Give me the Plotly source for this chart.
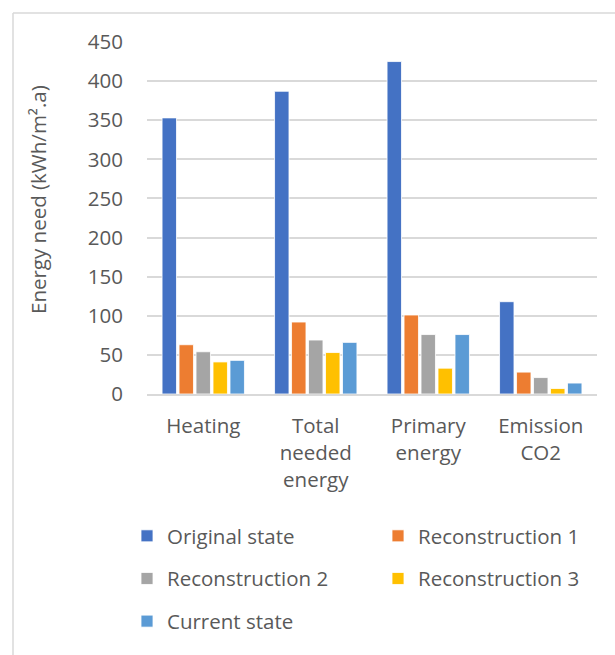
import plotly.graph_objects as go

categories = ["Heating", "Total<br>needed<br>energy", "Primary<br>energy", "Emission<br>CO2"]
series_names = ["Original state", "Reconstruction 1", "Reconstruction 2", "Reconstruction 3", "Current state"]
original_state = [353, 387, 425, 118]
reconstruction_1 = [63, 92, 101, 28]
reconstruction_2 = [54, 69, 76, 21]
reconstruction_3 = [41, 53, 33, 7]
current_state = [43, 66, 76, 14]
y_ticks = [0, 50, 100, 150, 200, 250, 300, 350, 400, 450]

values = [original_state, reconstruction_1, reconstruction_2, reconstruction_3, current_state]
colors = ["#4472C4", "#ED7D31", "#A5A5A5", "#FFC000", "#5B9BD5"]
legend_ids = ["legend", "legend2", "legend", "legend2", "legend"]

FONT = "Open Sans"
GREY = "#595959"
FS = 20.5

fig = go.Figure()
for name, vals, col, lg in zip(series_names, values, colors, legend_ids):
    fig.add_trace(go.Bar(
        x=categories, y=vals, name=name,
        marker=dict(color=col, line=dict(color="white", width=0.8)),
        legend=lg, legendgroup=name,
    ))

W, H = 615, 655
L, R, T, B = 147, 18, 42, 261
pw, ph = W - L - R, H - T - B

def px_x(px):
    return (px - L) / pw

def px_y(py):
    return (H - B - py) / ph

fig.update_layout(
    width=W, height=H,
    margin=dict(l=L, r=R, t=T, b=B),
    paper_bgcolor="white", plot_bgcolor="white",
    font=dict(family=FONT, size=FS, color=GREY),
    barmode="group", bargap=0.245, bargroupgap=0.15,
    xaxis=dict(showgrid=False, showline=True, linecolor="#d9d9d9", linewidth=1.5,
               ticks="", ticklabelstandoff=13, tickfont=dict(size=FS, color=GREY)),
    yaxis=dict(range=[0, 450], tickvals=y_ticks, showgrid=True, gridcolor="#d9d9d9",
               gridwidth=1.5, zeroline=False, showline=False, ticks="",
               ticklabelstandoff=23, tickfont=dict(size=FS, color=GREY)),
    legend=dict(orientation="v", x=px_x(127), xanchor="left", y=px_y(516), yanchor="top",
                font=dict(size=FS, color=GREY), tracegroupgap=13, bgcolor="rgba(0,0,0,0)"),
    legend2=dict(orientation="v", x=px_x(378), xanchor="left", y=px_y(516), yanchor="top",
                 font=dict(size=FS, color=GREY), tracegroupgap=13, bgcolor="rgba(0,0,0,0)"),
    annotations=[dict(text="Energy need (kWh/m².a)", textangle=-90, xref="paper", yref="paper",
                      x=px_x(38), y=px_y(200), xanchor="center", yanchor="middle",
                      showarrow=False, font=dict(size=FS, color=GREY))],
    shapes=[
        dict(type="line", xref="paper", yref="paper", x0=px_x(13), x1=px_x(640),
             y0=px_y(13), y1=px_y(13), line=dict(color="#d9d9d9", width=1.5)),
        dict(type="line", xref="paper", yref="paper", x0=px_x(13), x1=px_x(13),
             y0=px_y(13), y1=px_y(700), line=dict(color="#d9d9d9", width=1.5)),
    ],
)

fig.write_html("out.html")
